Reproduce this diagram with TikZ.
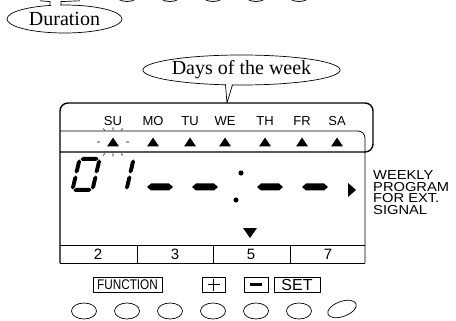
\documentclass[tikz,border=0pt]{standalone}
\usepackage{fontspec}
\usepackage{graphicx}
\setmainfont{Liberation Serif}
\setsansfont{Liberation Sans}
\usetikzlibrary{shapes.geometric}
\newcommand{\dsegH}[3]{\fill ({#1-#3/2},#2) -- ({#1-#3/2+2},{#2-2}) -- ({#1+#3/2-2},{#2-2}) -- ({#1+#3/2},#2) -- ({#1+#3/2-2},{#2+2}) -- ({#1-#3/2+2},{#2+2}) -- cycle;}
\newcommand{\dsegV}[3]{\fill (#1,{#2-#3/2}) -- ({#1+2},{#2-#3/2+2}) -- ({#1+2},{#2+#3/2-2}) -- (#1,{#2+#3/2}) -- ({#1-2},{#2+#3/2-2}) -- ({#1-2},{#2-#3/2+2}) -- cycle;}
\newcommand{\dashseg}[2]{\fill ({#1-13},#2) -- ({#1-9},{#2-3.5}) -- ({#1+9},{#2-3.5}) -- ({#1+13},#2) -- ({#1+9},{#2+3.5}) -- ({#1-9},{#2+3.5}) -- cycle;}
\begin{document}
\begin{tikzpicture}[x=1pt,y=-1pt,line join=round,
  lbl/.style={font=\sffamily\fontsize{13}{13}\selectfont,inner sep=0pt},
  num/.style={font=\sffamily\fontsize{15}{15}\selectfont,inner sep=0pt},
  side/.style={anchor=west,inner sep=0pt,font=\sffamily\fontsize{13}{13}\selectfont},
  callout/.style={draw,ellipse,inner sep=0pt,line width=0.7pt,font=\fontsize{20}{20}\selectfont},
  keybox/.style={draw,line width=0.7pt,inner sep=0pt,minimum height=15pt},
  oval/.style={draw,ellipse,minimum width=25pt,minimum height=16pt,inner sep=0pt,line width=0.7pt},
  thinline/.style={line width=0.8pt},
  heavyline/.style={line width=1.4pt},
  ray/.style={line width=0.6pt}]
\useasboundingbox (0,0) rectangle (456,321);
\clip (0,0) rectangle (456,321);
% bottoms of the cut-off ovals at top
\foreach \x in {127,170,213,256,299}
  \draw[line width=0.8pt] (\x,-6.5) ellipse [x radius=12.5, y radius=8];
% Duration callout
\node[callout,minimum width=115pt,minimum height=28pt] (dur) at (64.5,19) {Duration};
\fill[white] (50.6,0) rectangle (60.4,7);
\coordinate (durtopL) at (40,0.8);
\coordinate (durtopR) at (80,0.8);
\draw[line width=0.7pt] (50,5.45) -- (50,1.6) -- (durtopL);
\draw[line width=0.7pt] (61,5.05) -- (61,1.6) -- (durtopR);
% Days of the week callout
\node[callout,minimum width=177pt,minimum height=30pt] (days) at (241.5,70) {Days of the week};
\coordinate (daystip) at (227,103);
\fill[white] (226.1,83) -- (232,83) -- (daystip) -- cycle;
\draw[line width=0.7pt] (225.5,84.7) -- (daystip) -- (232.5,84.8);
% display frame
\draw[heavyline,rounded corners=8] (60,263) -- (60,103) -- (373,103) -- (373,152) -- (60,152);
\draw[thinline,rounded corners=7] (60,131) -- (365,131) -- (365,263);
\draw[thinline] (60,245) -- (365,245) (60,263) -- (365,263);
\foreach \x in {137,213,290} \draw[thinline] (\x,245) -- (\x,263);
% day labels and triangles
\foreach \x/\d in {113/SU,153/MO,190/TU,225/WE,265/TH,302/FR,337/SA}{
  \node[lbl] (d\d) at (\x,121) {\d};
  \fill (\x-6,146.5) -- (\x+6,146.5) -- (\x,137.5) -- cycle;
}
% sparkle round SU
\draw[ray] (97,142) -- (100,142) (126,142) -- (129,142)
  (113,127.5) -- (113,130.5) (103,128.5) -- (105,130.5) (123,128.5) -- (121,130.5)
  (113,153.5) -- (113,156.5) (103,155.5) -- (105,153.5) (123,155.5) -- (121,153.5);
% big digits 0 1
\begin{scope}[shift={(70,192)},xslant=0.23]
  \dsegH{12}{-33}{18}
  \dsegH{12}{-2}{18}
  \dsegV{2}{-25.5}{14}
  \dsegV{2}{-9.5}{14}
  \dsegV{22}{-25.5}{14}
  \dsegV{22}{-9.5}{14}
\end{scope}
\begin{scope}[shift={(104,192)},xslant=0.23]
  \dsegV{22}{-25.5}{14}
  \dsegV{22}{-9.5}{14}
\end{scope}
% dashes and colon
\dashseg{160}{187}
\dashseg{205}{187}
\dashseg{270}{187}
\dashseg{315}{187}
\fill (241,173) circle [radius=2.6];
\fill (236,200) circle [radius=2.6];
% pointers
\fill (348,183) -- (348,197) -- (356,190) -- cycle;
\fill (243,228) -- (257,228) -- (250,238) -- cycle;
% side text
\node[side] (s1) at (373,175) {\scalebox{1.13}[1]{WEEKLY}};
\node[side] (s2) at (373,186.7) {\scalebox{1.13}[1]{PROGRAM}};
\node[side] (s3) at (373,198.4) {\scalebox{1.13}[1]{FOR EXT.}};
\node[side] (s4) at (373,210) {\scalebox{1.13}[1]{SIGNAL}};
% number row
\foreach \x/\n in {98/2,175/3,251/5,328/7} \node[num] (n\n) at (\x,254) {\n};
% keys
\node[keybox,minimum width=69pt] (fn) at (127.5,284.5) {\sffamily\fontsize{14}{14}\selectfont\scalebox{0.84}[1]{FUNCTION}};
\node[keybox,minimum width=23pt] (plus) at (213.5,284.5) {};
\draw[line width=0.6pt] (207.5,284.5) -- (219.5,284.5) (213.5,278.5) -- (213.5,290.5);
\node[keybox,minimum width=24pt] (minus) at (256,284.5) {};
\draw[line width=2.2pt] (250,284.5) -- (262,284.5);
\node[keybox,minimum width=46pt] (set) at (297,284.5) {\sffamily\fontsize{16}{16}\selectfont SET};
% ovals
\foreach \x [count=\i] in {84,127,170,213,256,299} \node[oval] (o\i) at (\x,311) {};
\draw[line width=0.7pt,rotate around={20:(342,309)}] (342,309) ellipse [x radius=15, y radius=7.5];
\end{tikzpicture}
\end{document}
